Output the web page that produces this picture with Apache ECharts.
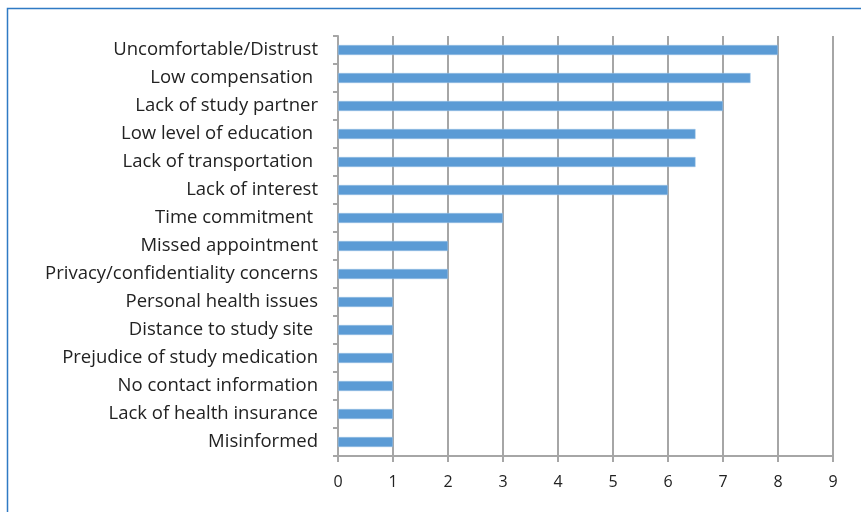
<!DOCTYPE html>
<html>
<head>
<meta charset="utf-8">
<script src="https://cdn.jsdelivr.net/npm/echarts@6/dist/echarts.min.js"></script>
<style>
    html, body {margin: 0; padding: 0; background: #fff;}
    #chart {width: 861px; height: 512px;}
</style>
</head>
<body>
<div id="chart"></div>
<script>
const reasons = [
    'Uncomfortable/Distrust',
    'Low compensation ',
    'Lack of study partner',
    'Low level of education ',
    'Lack of transportation ',
    'Lack of interest',
    'Time commitment ',
    'Missed appointment',
    'Privacy/confidentiality concerns',
    'Personal health issues',
    'Distance to study site ',
    'Prejudice of study medication',
    'No contact information',
    'Lack of health insurance',
    'Misinformed',
]
const counts = [8, 7.5, 7, 6.5, 6.5, 6, 3, 2, 2, 1, 1, 1, 1, 1, 1]
const x_ticks = [0, 1, 2, 3, 4, 5, 6, 7, 8, 9]

const GREY = '#a6a6a6'
const chart = echarts.init(document.getElementById('chart'))

chart.setOption({
    animation: false,
    textStyle: {fontFamily: 'Open Sans'},
    graphic: [
        {
            type: 'rect',
            shape: {x: 7.5, y: 8.5, width: 1000, height: 1000},
            style: {fill: 'none', stroke: '#2f7ac4', lineWidth: 1.5},
            silent: true,
        },
    ],
    grid: {left: 338, right: 28, top: 36, bottom: 56},
    xAxis: {
        type: 'value',
        min: x_ticks[0],
        max: x_ticks[x_ticks.length - 1],
        interval: 1,
        axisLine: {show: true, lineStyle: {color: GREY, width: 2}},
        axisTick: {show: true, length: 6, lineStyle: {color: GREY, width: 2}},
        splitLine: {show: true, lineStyle: {color: GREY, width: 2}},
        axisLabel: {color: '#222', fontSize: 16, margin: 18},
    },
    yAxis: {
        type: 'category',
        inverse: true,
        data: reasons,
        axisLine: {show: true, lineStyle: {color: GREY, width: 2}},
        axisTick: {show: true, length: 5, lineStyle: {color: GREY, width: 2}},
        axisLabel: {color: '#222', fontSize: 18.5, margin: 20},
    },
    series: [
        {
            type: 'bar',
            data: counts,
            barWidth: 10,
            itemStyle: {color: '#5b9bd5', borderColor: '#9cc3e6', borderWidth: 0.5},
        },
    ],
})
</script>
</body>
</html>
